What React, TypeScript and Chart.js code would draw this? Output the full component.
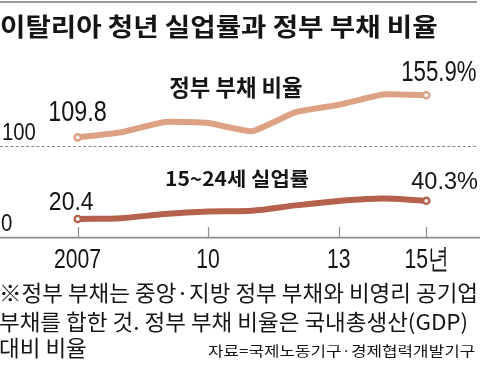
import React, { useEffect, useRef } from "react";
import { Chart, registerables } from "chart.js";

Chart.register(...registerables);

// ---------- data ----------
const years = ["2007", "2008", "2009", "2010", "2011", "2012", "2013", "2014", "2015"];
const debtRatio = [109.8, 115.4, 126.6, 125.5, 116.5, 137.4, 145.5, 156.8, 155.9];
const youthUnemployment = [20.4, 21.3, 25.9, 28.6, 29.3, 35.3, 40.2, 42.9, 40.3];
const tickYears = ["2007", "2010", "2013", "2015"];
const tickLabels = ["2007", "10", "13", "15년"];
const gridValues = [100, 0];
const gridLabels = ["100", "0"];
const seriesNames = ["정부 부채 비율", "15~24세 실업률"];
const startLabels = ["109.8", "20.4"];
const endLabels = ["155.9%", "40.3%"];
const titleText = "이탈리아 청년 실업률과 정부 부채 비율";
const noteLines = [
  "※정부 부채는 중앙·지방 정부 부채와 비영리 공기업",
  "부채를 합한 것. 정부 부채 비율은 국내총생산(GDP)",
  "대비 비율",
];
const sourceText = "자료=국제노동기구·경제협력개발기구";

// ---------- style ----------
const W = 480;
const H = 381;
const DEBT_COLOR = "#dca283";
const UNEMP_COLOR = "#b5614b";
const TEXT_COLOR = "#151515";
const RULE_COLOR = "#8c8c8c";
const NUM_FONT = '"Liberation Sans Narrow", "Liberation Sans", "DejaVu Sans", sans-serif';
const KR_FONT = '"Noto Sans CJK KR", "Noto Sans", sans-serif';

const measureCtx = document.createElement("canvas").getContext("2d") as CanvasRenderingContext2D;

type Fit = {
  F: number;
  sx: number;
  baseline: number;
  originX: number;
  fa: number;
  fd: number;
};

function fitBox(text: string, weight: number, family: string, l: number, r: number, t: number, b: number): Fit {
  measureCtx.font = `${weight} 100px ${family}`;
  const m = measureCtx.measureText(text);
  const inkH = m.actualBoundingBoxAscent + m.actualBoundingBoxDescent;
  const k = (b - t) / inkH;
  const inkW = (m.actualBoundingBoxLeft + m.actualBoundingBoxRight) * k;
  const sx = (r - l) / inkW;
  return {
    F: 100 * k,
    sx,
    baseline: t + m.actualBoundingBoxAscent * k,
    originX: l + m.actualBoundingBoxLeft * k * sx,
    fa: (m as any).fontBoundingBoxAscent * k,
    fd: (m as any).fontBoundingBoxDescent * k,
  };
}

function drawWith(ctx: CanvasRenderingContext2D, text: string, weight: number, family: string, F: number, sx: number, originX: number, baseline: number, color: string) {
  ctx.save();
  ctx.font = `${weight} ${F.toFixed(2)}px ${family}`;
  ctx.fillStyle = color;
  ctx.textAlign = "left";
  ctx.textBaseline = "alphabetic";
  ctx.translate(originX, baseline);
  ctx.scale(sx, 1);
  ctx.fillText(text, 0, 0);
  ctx.restore();
}

function drawFit(ctx: CanvasRenderingContext2D, text: string, weight: number, family: string, l: number, r: number, t: number, b: number, color: string) {
  const f = fitBox(text, weight, family, l, r, t, b);
  drawWith(ctx, text, weight, family, f.F, f.sx, f.originX, f.baseline, color);
}

const overlayPlugin = {
  id: "overlay",
  beforeDatasetsDraw(chart: any) {
    const { ctx } = chart;
    const x = chart.scales.x;
    const y = chart.scales.y;
    const y0 = y.getPixelForValue(0);
    const y100 = y.getPixelForValue(100);
    ctx.save();
    ctx.strokeStyle = RULE_COLOR;
    ctx.lineWidth = 1.6;
    ctx.beginPath();
    ctx.moveTo(0, y0);
    ctx.lineTo(W, y0);
    ctx.stroke();
    ctx.lineWidth = 1.2;
    tickYears.forEach((t) => {
      const px = Math.round(x.getPixelForValue(years.indexOf(t))) + 0.5;
      ctx.beginPath();
      ctx.moveTo(px, y0 - 10.5);
      ctx.lineTo(px, y0);
      ctx.stroke();
    });
    ctx.setLineDash([3, 2.2]);
    ctx.lineWidth = 1;
    ctx.strokeStyle = "#8a8a8a";
    ctx.beginPath();
    ctx.moveTo(0, Math.round(y100) + 0.5);
    ctx.lineTo(W - 2, Math.round(y100) + 0.5);
    ctx.stroke();
    ctx.restore();
  },
  afterDatasetsDraw(chart: any) {
    const { ctx } = chart;
    const x = chart.scales.x;
    const y = chart.scales.y;
    const y0 = y.getPixelForValue(0);

    const yBoxes = [
      { l: 3.3, r: 35, t: -23.3, b: -6.3 },
      { l: 1.7, r: 11.7, t: -22.6, b: -5.9 },
    ];
    gridValues.forEach((v, i) => {
      const py = y.getPixelForValue(v);
      const bx = yBoxes[i];
      drawFit(ctx, gridLabels[i], 400, NUM_FONT, bx.l, bx.r, py + bx.t, py + bx.b, TEXT_COLOR);
    });

    const refIdx = 0;
    const refPx = x.getPixelForValue(years.indexOf(tickYears[refIdx]));
    const ref = fitBox(tickLabels[refIdx], 400, NUM_FONT, refPx - 22.7, refPx + 22.3, y0 + 10.7, y0 + 30.7);
    tickYears.forEach((t, i) => {
      const px = x.getPixelForValue(years.indexOf(t));
      measureCtx.font = `400 ${ref.F.toFixed(2)}px ${NUM_FONT}`;
      const m = measureCtx.measureText(tickLabels[i]);
      const inkW = (m.actualBoundingBoxLeft + m.actualBoundingBoxRight) * ref.sx;
      const originX = px - inkW / 2 + m.actualBoundingBoxLeft * ref.sx;
      drawWith(ctx, tickLabels[i], 400, NUM_FONT, ref.F, ref.sx, originX, ref.baseline, TEXT_COLOR);
    });

    const startBoxes = [
      { l: -27.7, r: 28.3, t: -36.6, b: -15.6 },
      { l: -27.7, r: 15.3, t: -27.3, b: -9 },
    ];
    const endBoxes = [
      { l: -23.6, r: 49.7, t: -34.3, b: -13.6 },
      { l: -14.6, r: 51, t: -29.1, b: -11.5 },
    ];
    [0, 1].forEach((di) => {
      const meta = chart.getDatasetMeta(di);
      const p0 = meta.data[0];
      const pN = meta.data[meta.data.length - 1];
      const sb = startBoxes[di];
      const eb = endBoxes[di];
      drawFit(ctx, startLabels[di], 400, NUM_FONT, p0.x + sb.l, p0.x + sb.r, p0.y + sb.t, p0.y + sb.b, TEXT_COLOR);
      drawFit(ctx, endLabels[di], 400, NUM_FONT, pN.x + eb.l, pN.x + eb.r, pN.y + eb.t, pN.y + eb.b, TEXT_COLOR);
    });

    drawFit(ctx, seriesNames[0], 700, KR_FONT, 170, 301.7, 76.7, 98.3, TEXT_COLOR);
    drawFit(ctx, seriesNames[1], 700, KR_FONT, 166.7, 308.3, 170, 188.3, TEXT_COLOR);
  },
};

function endpointRadius(ctx: any) {
  const n = ctx.dataset.data.length;
  return ctx.dataIndex === 0 || ctx.dataIndex === n - 1 ? 3.1 : 0;
}

function FitLine(props: { text: string; weight: number; fit: Fit; baselineShift?: number }) {
  const { text, weight, fit, baselineShift = 0 } = props;
  return (
    <div
      style={{
        position: "absolute",
        left: fit.originX,
        top: fit.baseline + baselineShift - fit.fa,
        fontFamily: KR_FONT,
        fontWeight: weight,
        fontSize: `${fit.F}px`,
        lineHeight: `${fit.fa + fit.fd}px`,
        whiteSpace: "nowrap",
        color: TEXT_COLOR,
        transform: `scaleX(${fit.sx})`,
        transformOrigin: "0 0",
        margin: 0,
        padding: 0,
      }}
    >
      {text}
    </div>
  );
}

export default function App() {
  const canvasRef = useRef<HTMLCanvasElement | null>(null);

  useEffect(() => {
    document.body.style.margin = "0";
    const canvas = canvasRef.current;
    if (!canvas) return;
    const chart = new Chart(canvas, {
      type: "line",
      data: {
        labels: years,
        datasets: [
          {
            label: seriesNames[0],
            data: debtRatio,
            borderColor: DEBT_COLOR,
            borderWidth: 6,
            tension: 0.12,
            borderCapStyle: "round",
            borderJoinStyle: "round",
            pointRadius: endpointRadius,
            pointHoverRadius: endpointRadius,
            pointBackgroundColor: "#ffffff",
            pointBorderColor: DEBT_COLOR,
            pointBorderWidth: 2.4,
            clip: false as any,
          },
          {
            label: seriesNames[1],
            data: youthUnemployment,
            borderColor: UNEMP_COLOR,
            borderWidth: 6,
            tension: 0.3,
            borderCapStyle: "round",
            borderJoinStyle: "round",
            pointRadius: endpointRadius,
            pointHoverRadius: endpointRadius,
            pointBackgroundColor: "#ffffff",
            pointBorderColor: UNEMP_COLOR,
            pointBorderWidth: 2.4,
            clip: false as any,
          },
        ],
      },
      options: {
        animation: false,
        responsive: false,
        events: [],
        layout: { padding: { left: 77.7, right: 53.7, top: 55, bottom: H - 237.6 } },
        scales: {
          x: { type: "category", display: false, offset: false },
          y: { type: "linear", display: false, min: 0, max: 200 },
        },
        plugins: { legend: { display: false }, tooltip: { enabled: false } },
      },
      plugins: [overlayPlugin],
    });
    return () => chart.destroy();
  }, []);

  const titleFit = fitBox(titleText, 700, KR_FONT, 1.7, 436.7, 16, 39.3);
  const noteFit = fitBox(noteLines[0], 400, KR_FONT, 1.7, 475, 283.3, 303.3);
  const sourceFit = fitBox(sourceText, 400, KR_FONT, 209, 475, 345, 357.3);
  const noteShifts = [0, 28.4, 55];

  return (
    <div style={{ position: "absolute", left: 0, top: 0, width: W, height: H, background: "#ffffff", overflow: "hidden" }}>
      <canvas ref={canvasRef} width={W} height={H} style={{ position: "absolute", left: 0, top: 0, width: W, height: H }} />
      <div style={{ position: "absolute", left: 0, top: 1, width: 477, height: 2, background: "#9a9a9a" }} />
      <FitLine text={titleText} weight={700} fit={titleFit} />
      {noteLines.map((line, i) => (
        <FitLine key={i} text={line} weight={400} fit={noteFit} baselineShift={noteShifts[i]} />
      ))}
      <FitLine text={sourceText} weight={400} fit={sourceFit} />
    </div>
  );
}
